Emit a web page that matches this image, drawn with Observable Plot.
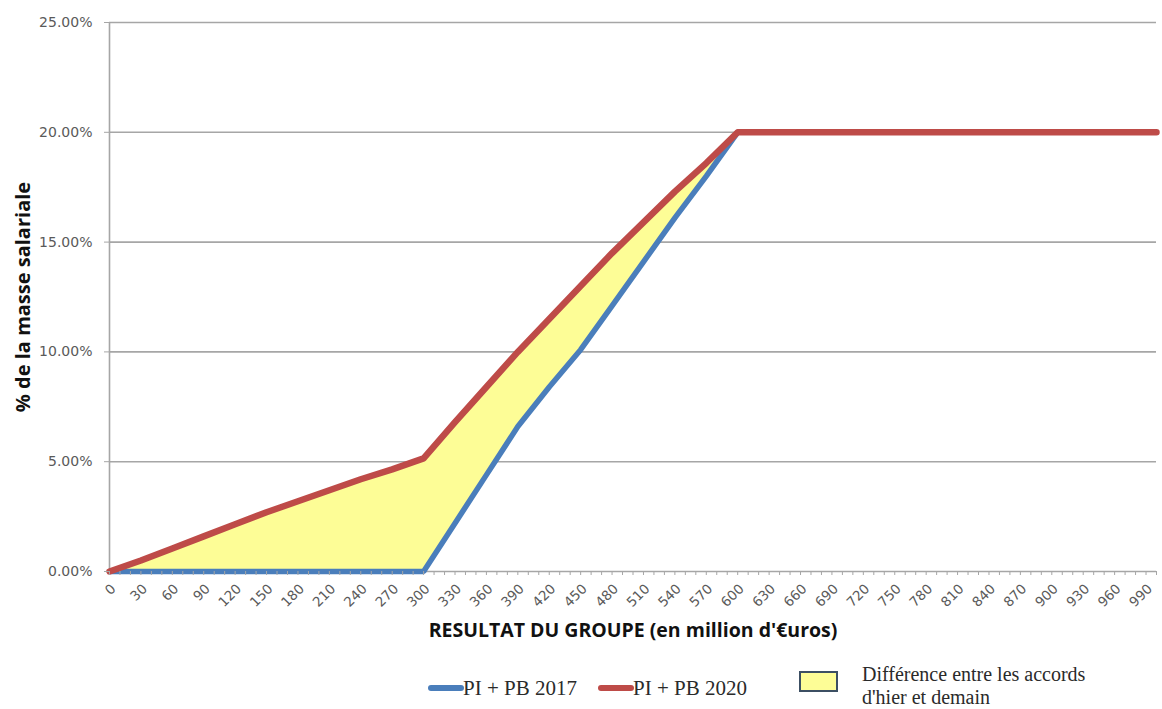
<!DOCTYPE html>
<html>
<head>
<meta charset="utf-8">
<script src="https://cdn.jsdelivr.net/npm/d3@7"></script>
<script src="https://cdn.jsdelivr.net/npm/@observablehq/plot@0.6"></script>
<style>
  html, body { margin: 0; padding: 0; background: #fff; }
  #wrap { position: relative; width: 1162px; height: 709px; overflow: hidden; }
  #legend { position: absolute; left: 0; top: 650px; width: 1162px; height: 59px;
            font-family: "Liberation Serif", "DejaVu Serif", serif; font-size: 21px; color: #2a2a2a; }
  .sw { position: absolute; height: 6px; border-radius: 3px; }
  .lt { position: absolute; white-space: nowrap; line-height: 23px; }
  .box { position: absolute; background: #fdfd96; border: 2px solid #3c4f63; box-sizing: border-box; }
</style>
</head>
<body>
<div id="wrap">
  <div id="chart"></div>
  <div id="legend"></div>
</div>
<script>
// ---- data ----
const resultat = [0, 30, 60, 90, 120, 150, 180, 210, 240, 270, 300, 330, 360, 390, 420, 450, 480, 510, 540, 570, 600, 1000];
const pb2017   = [0, 0, 0, 0, 0, 0, 0, 0, 0, 0, 0, 2.2, 4.4, 6.6, 8.4, 10.1, 12.1, 14.1, 16.1, 18.0, 20, 20];
const pb2020   = [0, 0.5, 1.05, 1.6, 2.15, 2.7, 3.2, 3.7, 4.2, 4.65, 5.15, 6.8, 8.4, 10.0, 11.5, 13.0, 14.5, 15.9, 17.3, 18.6, 20, 20];
const yTicks = [0, 5, 10, 15, 20, 25];
const xMinorTicks = d3.range(0, 1001, 10);
const xLabelTicks = d3.range(0, 991, 30);
const seriesNames = ["PI + PB 2017", "PI + PB 2020", "Différence entre les accords\nd'hier et demain"];
const xTitle = "RESULTAT DU GROUPE (en million d'€uros)";
const yTitle = "% de la masse salariale";

const colors = { blue: "#4a7ebb", red: "#be4b48", fill: "#fdfd96", grid: "#a6a6a6", text: "#5a5a5a" };
const tickFont = "'DejaVu Sans', sans-serif";

const rows = resultat.map((x, i) => ({ x, a: pb2017[i], b: pb2020[i] }));

const chart = Plot.plot({
  width: 1162,
  height: 650,
  marginTop: 22,
  marginBottom: 79,
  marginLeft: 109,
  marginRight: 6,
  style: { fontFamily: "'Open Sans', sans-serif", background: "#fff" },
  x: { type: "linear", domain: [0, 1000] },
  y: { type: "linear", domain: [0, 25] },
  marks: [
    Plot.ruleY(yTicks.filter(d => d > 0), { stroke: colors.grid, strokeWidth: 1.6 }),
    Plot.areaY(rows, { x: "x", y1: "a", y2: "b", fill: colors.fill, curve: "linear" }),
    Plot.ruleX([0], { stroke: colors.grid, strokeWidth: 1.6 }),
    Plot.ruleY([0], { stroke: colors.grid, strokeWidth: 1.6 }),
    Plot.lineY(rows, { x: "x", y: "a", stroke: colors.blue, strokeWidth: 5.5, strokeLinejoin: "miter", strokeLinecap: "butt" }),
    Plot.lineY(rows, { x: "x", y: "b", stroke: colors.red, strokeWidth: 6.5, strokeLinejoin: "round", strokeLinecap: "round" }),
    Plot.axisY({ ticks: yTicks, tickSize: 5, tickPadding: 12, stroke: colors.grid,
      tickFormat: d => d.toFixed(2) + "%", fontSize: 14, fontFamily: tickFont, fill: colors.text, label: null }),
    Plot.axisX({ ticks: xMinorTicks, tickSize: 4, tickFormat: () => "", stroke: colors.grid, label: null }),
    Plot.text(xLabelTicks, { x: d => d, text: d => String(d), frameAnchor: "bottom", rotate: -45,
      textAnchor: "end", lineAnchor: "middle", dx: 4, dy: 15, fontSize: 13.5, fontFamily: tickFont, fill: colors.text }),
    Plot.text([xTitle], { frameAnchor: "bottom", dy: 65, fontSize: 19.5, fontWeight: "bold", fill: "#111" }),
    Plot.text([yTitle], { frameAnchor: "left", textAnchor: "middle", dx: -86, rotate: -90,
      fontSize: 20, fontWeight: "bold", fill: "#111" })
  ]
});
document.getElementById("chart").appendChild(chart);

// ---- legend (HTML below the SVG) ----
const legend = document.getElementById("legend");
function add(cls, css, text) {
  const d = document.createElement("div");
  d.className = cls;
  Object.assign(d.style, css);
  if (text != null) d.textContent = text;
  legend.appendChild(d);
}
add("sw", { left: "428px", top: "35px", width: "36px", background: colors.blue });
add("lt", { left: "463px", top: "27px" }, seriesNames[0]);
add("sw", { left: "598px", top: "35px", width: "36px", background: colors.red });
add("lt", { left: "633px", top: "27px" }, seriesNames[1]);
add("box", { left: "799px", top: "21px", width: "39px", height: "21px" });
const lines = seriesNames[2].split("\n");
add("lt", { left: "862px", top: "13px", fontSize: "20px" }, lines[0]);
add("lt", { left: "862px", top: "36px", fontSize: "20px" }, lines[1]);
</script>
</body>
</html>
